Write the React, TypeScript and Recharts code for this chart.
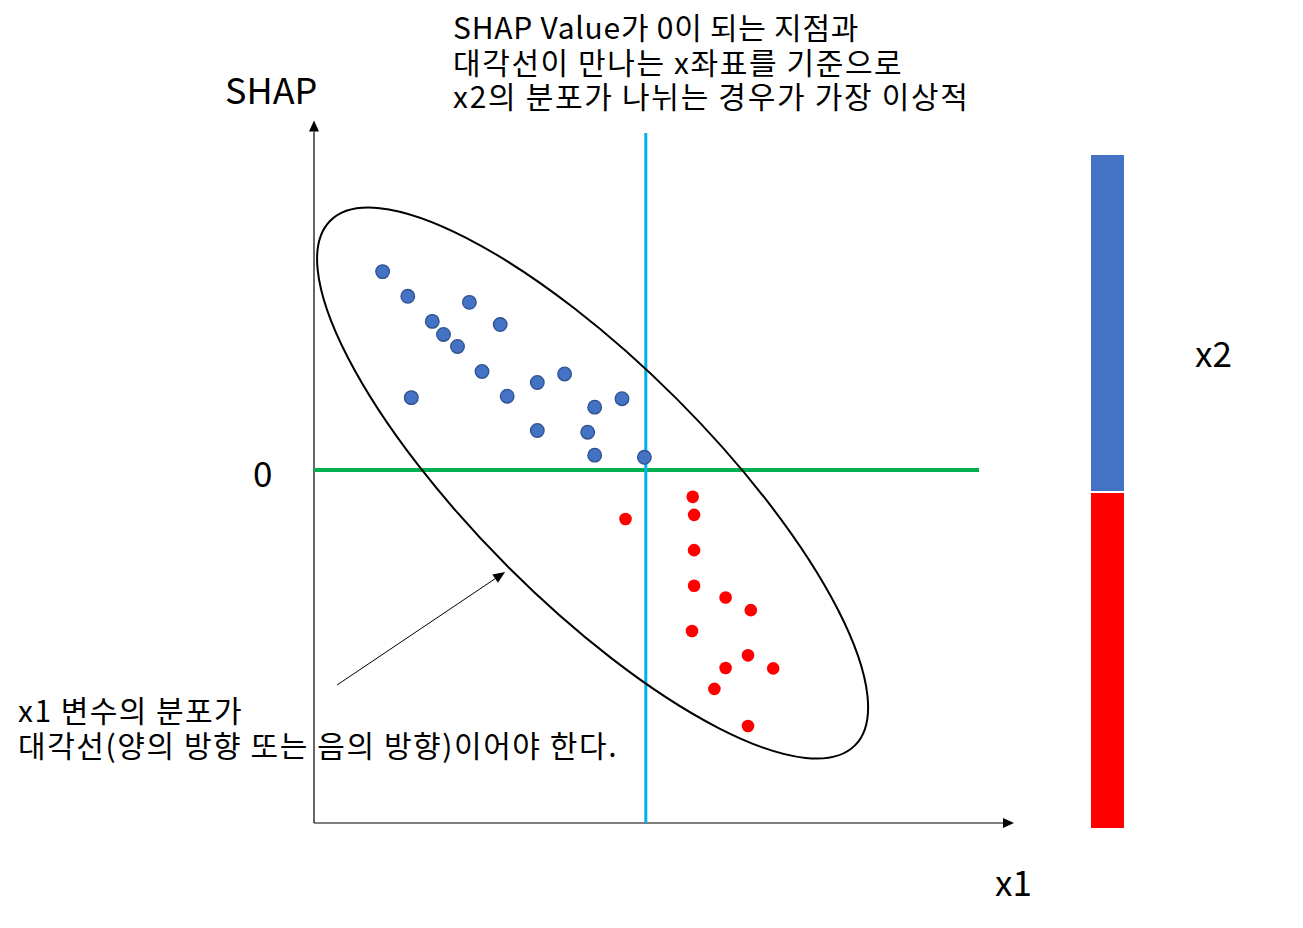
import React from 'react';
import { ScatterChart, Scatter, XAxis, YAxis, ReferenceLine, ReferenceDot } from 'recharts';

// ---- data (x1 value, SHAP value) ----
const blueX1 = [0.98, 1.34, 2.22, 1.69, 2.66, 1.85, 2.05, 2.4, 3.58, 3.19, 1.39, 2.76, 4.4, 4.01, 3.19, 3.91, 4.01, 4.72];
const blueShap = [5.62, 4.92, 4.75, 4.21, 4.12, 3.84, 3.5, 2.79, 2.72, 2.48, 2.05, 2.09, 2.02, 1.78, 1.12, 1.07, 0.42, 0.36];
const redX1 = [5.41, 4.45, 5.43, 5.43, 5.43, 5.88, 6.24, 5.4, 6.2, 5.88, 6.56, 5.72, 6.2];
const redShap = [-0.76, -1.39, -1.27, -2.27, -3.28, -3.61, -3.97, -4.56, -5.25, -5.61, -5.62, -6.2, -7.25];

const xDomain = [0, 10];
const yDomain = [-10, 10];
const splitX1 = 4.74; // x1 where SHAP = 0 meets the diagonal
const ellipseCenter = { x1: 3.98, shap: -0.37 };
const arrowFrom = { x1: 0.33, shap: -6.09 };
const arrowTo = { x1: 2.73, shap: -2.89 };

const topText = ['SHAP Value가 0이 되는 지점과', '대각선이 만나는 x좌표를 기준으로', 'x2의 분포가 나뉘는 경우가 가장 이상적'];
const noteText = ['x1 변수의 분포가', '대각선(양의 방향 또는 음의 방향)이어야 한다.'];

// per-line tracking (style only)
const topTracking = [0.75, 1.6, 1.7];
const noteTracking = [1.45, 1.58];

const bluePoints = blueX1.map((x, i) => ({ x1: x, shap: blueShap[i] }));
const redPoints = redX1.map((x, i) => ({ x1: x, shap: redShap[i] }));

const FONT = '"Noto Sans CJK KR", "Noto Sans", sans-serif';

const makeArrow = (width: number, headLen: number, headHalf: number) => (props: any) => {
  const { x1, y1, x2, y2 } = props;
  if ([x1, y1, x2, y2].some((v) => typeof v !== 'number' || isNaN(v))) return null;
  const dx = x2 - x1;
  const dy = y2 - y1;
  const len = Math.sqrt(dx * dx + dy * dy) || 1;
  const ux = dx / len;
  const uy = dy / len;
  const bx = x2 - ux * headLen;
  const by = y2 - uy * headLen;
  const px = -uy * headHalf;
  const py = ux * headHalf;
  return (
    <g>
      <line x1={x1} y1={y1} x2={bx} y2={by} stroke="#000" strokeWidth={width} />
      <polygon points={`${x2},${y2} ${bx + px},${by + py} ${bx - px},${by - py}`} fill="#000" />
    </g>
  );
};

const axisArrow = makeArrow(1.2, 11, 5);
const noteArrow = makeArrow(1, 12, 5);

const blueDot = (p: any) => (
  <circle cx={p.cx} cy={p.cy} r={6.8} fill="#4472C4" stroke="#2F528F" strokeWidth={1.3} />
);
const redDot = (p: any) => <circle cx={p.cx} cy={p.cy} r={6.3} fill="#FF0000" />;

const ellipseShape = (p: any) => (
  <ellipse
    cx={p.cx}
    cy={p.cy}
    rx={371}
    ry={119}
    transform={`rotate(45 ${p.cx} ${p.cy})`}
    fill="none"
    stroke="#000"
    strokeWidth={2}
  />
);

const textStyle: React.CSSProperties = {
  position: 'absolute',
  fontFamily: FONT,
  color: '#000',
  whiteSpace: 'pre',
};

export default function App() {
  return (
    <div style={{ position: 'absolute', left: 0, top: 0, width: 1303, height: 928, background: '#fff' }}>
      <ScatterChart width={1303} height={928} margin={{ top: 117, right: 289, bottom: 105, left: 314 }}>
        <XAxis type="number" dataKey="x1" domain={xDomain} hide />
        <YAxis type="number" dataKey="shap" domain={yDomain} hide />
        <ReferenceLine
          segment={[{ x: 0, y: -10 }, { x: 10, y: -10 }]}
          shape={axisArrow}
          ifOverflow="visible"
        />
        <ReferenceLine
          segment={[{ x: 0, y: -10 }, { x: 0, y: 9.9 }]}
          shape={axisArrow}
          ifOverflow="visible"
        />
        <ReferenceLine
          segment={[{ x: 0, y: 0 }, { x: 9.5, y: 0 }]}
          stroke="#00B050"
          strokeWidth={4.2}
          ifOverflow="visible"
        />
        <ReferenceDot x={ellipseCenter.x1} y={ellipseCenter.shap} shape={ellipseShape} ifOverflow="visible" />
        <Scatter data={bluePoints} shape={blueDot} isAnimationActive={false} />
        <ReferenceLine
          segment={[{ x: splitX1, y: -10 }, { x: splitX1, y: 9.55 }]}
          stroke="#00B0F0"
          strokeWidth={3}
          ifOverflow="visible"
        />
        <Scatter data={redPoints} shape={redDot} isAnimationActive={false} />
        <ReferenceLine
          segment={[{ x: arrowFrom.x1, y: arrowFrom.shap }, { x: arrowTo.x1, y: arrowTo.shap }]}
          shape={noteArrow}
          ifOverflow="visible"
        />
      </ScatterChart>

      {topText.map((t, i) => (
        <div
          key={t}
          style={{
            ...textStyle,
            left: 453,
            top: 9 + i * 34.5,
            fontSize: 30,
            lineHeight: '34.5px',
            letterSpacing: topTracking[i],
          }}
        >
          {t}
        </div>
      ))}
      {noteText.map((t, i) => (
        <div
          key={t}
          style={{
            ...textStyle,
            left: 18,
            top: 692 + i * 35,
            fontSize: 30,
            lineHeight: '35px',
            letterSpacing: noteTracking[i],
          }}
        >
          {t}
        </div>
      ))}
      <div style={{ ...textStyle, left: 225, top: 66, fontSize: 36, lineHeight: '44px' }}>SHAP</div>
      <div style={{ ...textStyle, left: 253, top: 450, fontSize: 35, lineHeight: '44px' }}>0</div>
      <div style={{ ...textStyle, left: 995, top: 859, fontSize: 35, lineHeight: '44px' }}>x1</div>
      <div style={{ ...textStyle, left: 1195, top: 330, fontSize: 35, lineHeight: '44px' }}>x2</div>

      <div style={{ position: 'absolute', left: 1091, top: 155, width: 33, height: 336, background: '#4472C4' }} />
      <div style={{ position: 'absolute', left: 1091, top: 493, width: 33, height: 335, background: '#FF0000' }} />
    </div>
  );
}
